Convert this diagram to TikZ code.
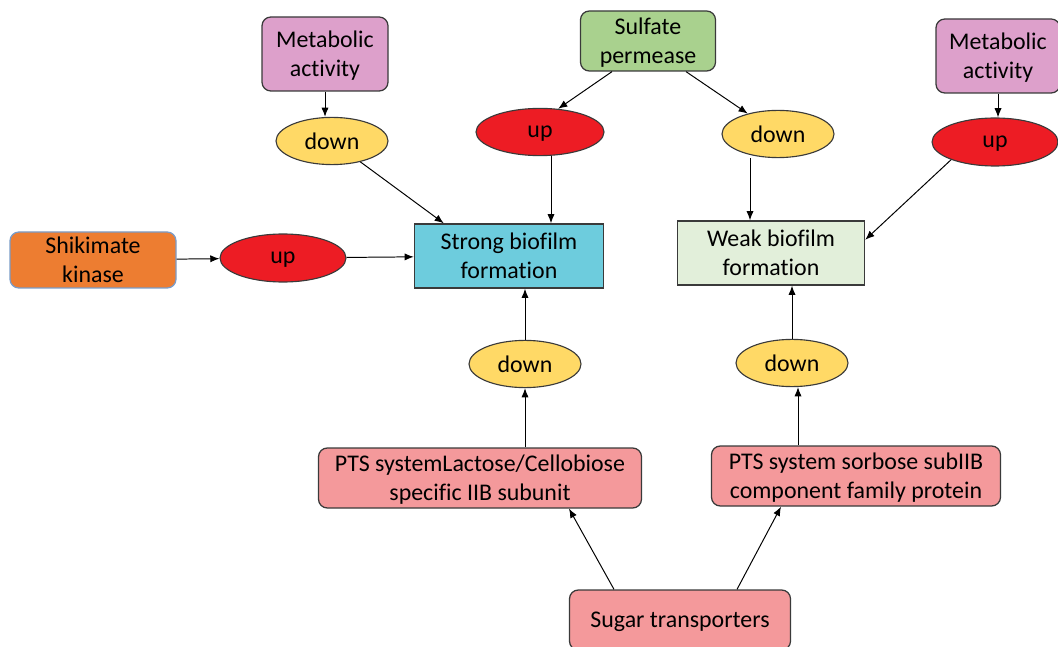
\documentclass[tikz,border=0pt]{standalone}
\usepackage{fontspec}
\setmainfont{Carlito}[Ligatures=NoCommon]
\usetikzlibrary{arrows.meta, shapes.geometric}

\definecolor{metacol}{HTML}{DDA0CB}
\definecolor{downcol}{HTML}{FFD966}
\definecolor{upcol}{HTML}{ED1C24}
\definecolor{shikcol}{HTML}{ED7D31}
\definecolor{shikedge}{HTML}{7A9CC8}
\definecolor{strongcol}{HTML}{6DCCDD}
\definecolor{sulfcol}{HTML}{A9D18E}
\definecolor{weakcol}{HTML}{E2EFDA}
\definecolor{ptscol}{HTML}{F4999B}
\definecolor{edgecol}{HTML}{3A3A3A}

\begin{document}
\begin{tikzpicture}[
    >={Latex[length=2.3mm,width=1.8mm]},
    font=\fontsize{17}{20.6}\selectfont,
    arrow/.style={
        ->,
        line width=0.7pt,
        black
    },
    box/.style={
        rectangle,
        rounded corners=2.2mm,
        draw=edgecol,
        line width=0.9pt,
        align=center,
        inner sep=0pt,
        text depth=0pt
    },
    plainbox/.style={
        box,
        rounded corners=0pt,
        line width=1pt
    },
    change/.style={
        ellipse,
        draw=edgecol,
        line width=0.8pt,
        inner sep=0pt,
        text depth=0pt
    },
    down/.style={
        change,
        fill=downcol,
        minimum width=2.8cm,
        minimum height=1.18cm
    },
    up/.style={
        change,
        fill=upcol,
        minimum width=3.15cm,
        minimum height=1.2cm
    },
    meta/.style={
        box,
        fill=metacol,
        minimum width=3.15cm,
        minimum height=1.85cm
    },
    pts/.style={
        box,
        fill=ptscol,
        minimum height=1.5cm
    }
]
    \useasboundingbox (0,0) rectangle (26.45,-16.175);

    % Outcomes
    \node[plainbox, fill=strongcol, minimum width=4.725cm, minimum height=1.6cm] (strong) at (12.725,-6.4) {Strong biofilm\\formation};
    \node[plainbox, fill=weakcol, minimum width=4.675cm, minimum height=1.6cm] (weak) at (19.275,-6.325) {Weak biofilm\\formation};

    % Left side
    \node[meta] (metaL) at (8.125,-1.35) {Metabolic\\activity};
    \node[down] (downA) at (8.3,-3.525) {down};
    \node[box, fill=shikcol, draw=shikedge, minimum width=4.15cm, minimum height=1.4cm] (shik) at (2.325,-6.5) {Shikimate\\kinase};
    \node[up] (upA) at (7.075,-6.45) {up};

    \draw[arrow] (metaL.south) -- (metaL.south |- downA.north);
    \draw[arrow] (downA) -- ([xshift=0.75cm]strong.north west);
    \draw[arrow] (shik) -- (upA);
    \draw[arrow] (upA) -- (strong);

    % Sulfate permease
    \node[box, fill=sulfcol, minimum width=3.375cm, minimum height=1.5cm] (sulf) at (16.2,-1.025) {Sulfate\\permease};
    \node[up, minimum width=3.2cm, minimum height=1.18cm] (upB) at (13.5,-3.3) {up};
    \node[down] (downB) at (19.45,-3.35) {down};

    \draw[arrow] ([xshift=-0.9cm]sulf.south) -- (upB.52);
    \draw[arrow] ([xshift=0.95cm]sulf.south) -- (downB.146);
    \draw[arrow] ([xshift=0.275cm]upB.south) -- ([xshift=0.275cm]upB.south |- strong.north);
    \draw[arrow] ([xshift=-0.7cm]downB.south) -- ([xshift=-0.7cm]downB.south |- weak.north);

    % Right side
    \node[meta, minimum width=3.1cm] (metaR) at (24.95,-1.4) {Metabolic\\activity};
    \node[up] (upC) at (24.875,-3.55) {up};

    \draw[arrow] (metaR.south) -- (metaR.south |- upC.north);
    \draw[arrow] (upC.202) -- ([yshift=0.33cm]weak.east);

    % Sugar transporters
    \node[down] (downC) at (13.125,-9.1) {down};
    \node[down] (downD) at (19.8,-9.075) {down};
    \node[pts, minimum width=8.075cm] (ptsL) at (12.0,-11.95) {PTS systemLactose/Cellobiose\\specific IIB subunit};
    \node[pts, minimum width=7.225cm] (ptsS) at (21.4,-11.9) {PTS system sorbose subIIB\\component family protein};
    \node[pts, minimum width=5.525cm] (sugar) at (17.0,-15.5) {Sugar transporters};

    \draw[arrow] (downC.north) -- (downC.north |- strong.south);
    \draw[arrow] (ptsL.north -| downC) -- (downC.south);
    \draw[arrow] (downD.north) -- (downD.north |- weak.south);
    \draw[arrow] ([xshift=0.15cm]ptsS.north -| downD) -- ([xshift=0.15cm]downD.south);
    \draw[arrow] ([xshift=-1.65cm]sugar.north) -- ([xshift=2.225cm]ptsL.south);
    \draw[arrow] ([xshift=1.425cm]sugar.north) -- ([xshift=-1.875cm]ptsS.south);

\end{tikzpicture}
\end{document}
